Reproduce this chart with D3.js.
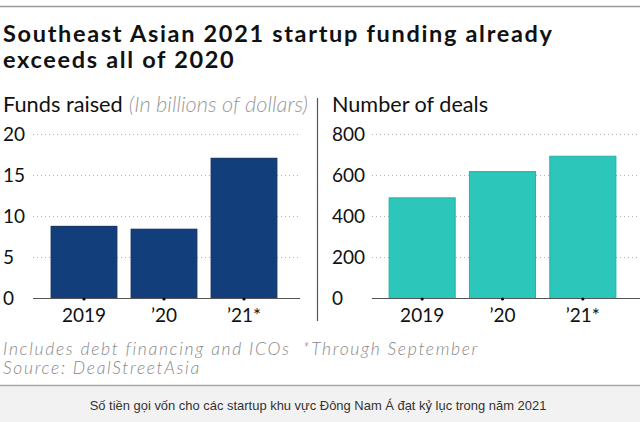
<!DOCTYPE html>
<html>
<head>
<meta charset="utf-8">
<script src="https://cdn.jsdelivr.net/npm/d3@7"></script>
<style>
  html, body { margin: 0; padding: 0; background: #fff; }
  svg { display: block; }
  text { font-family: Lato, "Open Sans", sans-serif; }
</style>
</head>
<body>
<svg id="chart" width="640" height="422"></svg>
<script>
// ---- data ----
const categories = ["2019", "\u201920", "\u201921*"];
const fundsRaised = [8.8, 8.45, 17.1];      // billions of dollars
const dealCounts = [491, 619, 694];        // number of deals
const fundsTicks = [0, 5, 10, 15, 20];
const dealTicks = [0, 200, 400, 600, 800];

const title = ["Southeast Asian 2021 startup funding already", "exceeds all of 2020"];
const notes = ["Includes debt financing and ICOs\u00a0\u00a0*Through September", "Source: DealStreetAsia"];
const caption = "S\u1ed1 ti\u1ec1n g\u1ecdi v\u1ed1n cho c\u00e1c startup khu v\u1ef1c \u0110\u00f4ng Nam \u00c1 \u0111\u1ea1t k\u1ef7 l\u1ee5c trong n\u0103m 2021";

const svg = d3.select("#chart");

// stretch a text to a target width via letter-spacing (keeps font size fixed)
function fitSpacing(sel, target) {
  const node = sel.node();
  const w = node.getComputedTextLength();
  const n = (sel.text() || "").length;
  if (w > 0 && n > 1) sel.attr("letter-spacing", ((target - w) / (n - 1)).toFixed(3));
  return sel.attr("letter-spacing");
}
function fitWidth(sel, target) {
  const node = sel.node();
  const w = node.getComputedTextLength();
  const fs = parseFloat(sel.attr("font-size"));
  if (w > 0) sel.attr("font-size", (fs * target / w).toFixed(2));
}

// top rule
svg.append("line").attr("x1", 0).attr("x2", 640).attr("y1", 6.5).attr("y2", 6.5)
  .attr("stroke", "#9a9a9a").attr("stroke-width", 1.5);

// title
const t1 = svg.append("text").attr("x", 3).attr("y", 41.5).attr("font-size", 23.5)
  .attr("font-weight", 700).attr("fill", "#111").text(title[0]);
const ls = fitSpacing(t1, 549);
svg.append("text").attr("x", 3).attr("y", 68).attr("font-size", 23.5).attr("letter-spacing", ls)
  .attr("font-weight", 700).attr("fill", "#111").text(title[1]);

// panels
function panel(opts) {
  const g = svg.append("g");
  const y = d3.scaleLinear().domain(opts.domain).range([298, 134]);
  const x = d3.scaleBand().domain(categories).range(opts.xRange)
    .paddingInner(0.165).paddingOuter(0.0825);

  // header
  const h = g.append("text").attr("x", opts.labelX).attr("y", 112)
    .attr("font-size", 18).attr("fill", "#111");
  h.append("tspan").text(opts.header);
  if (opts.sub) {
    h.append("tspan").attr("dx", 6).attr("font-style", "italic").attr("font-weight", 300)
      .attr("fill", "#999").text(opts.sub);
  }
  fitWidth(h, opts.headerWidth);

  // grid
  g.append("g").selectAll("line").data(opts.ticks.filter(d => d > 0)).join("line")
    .attr("x1", opts.gridX[0]).attr("x2", opts.gridX[1])
    .attr("y1", d => y(d) + 0.5).attr("y2", d => y(d) + 0.5)
    .attr("stroke", "#b5b5b5").attr("stroke-width", 1).attr("stroke-dasharray", "1,3");

  // y labels
  g.append("g").selectAll("text").data(opts.ticks).join("text")
    .attr("x", opts.labelX).attr("y", d => y(d)).attr("dy", "0.36em")
    .attr("font-size", 19).attr("fill", "#111").text(d => d);

  // bars
  g.append("g").selectAll("rect").data(opts.values).join("rect")
    .attr("x", (d, i) => x(categories[i]) + 0.5)
    .attr("y", d => y(d) + 0.5)
    .attr("width", x.bandwidth() - 1)
    .attr("height", d => y(0) - y(d))
    .attr("fill", opts.color).attr("stroke", opts.stroke).attr("stroke-width", 1);

  // axis line
  g.append("line").attr("x1", opts.gridX[0]).attr("x2", opts.gridX[1])
    .attr("y1", y(0) + 0.5).attr("y2", y(0) + 0.5)
    .attr("stroke", "#555").attr("stroke-width", 1.2);

  // tick dots
  g.append("g").selectAll("circle").data(categories).join("circle")
    .attr("cx", d => x(d) + x.bandwidth() / 2).attr("cy", y(0) + 1)
    .attr("r", 1.6).attr("fill", "#111");

  // x labels
  g.append("g").selectAll("text").data(categories).join("text")
    .attr("x", d => x(d) + x.bandwidth() / 2).attr("y", 322)
    .attr("text-anchor", "middle").attr("font-size", 19).attr("fill", "#111").text(d => d);
}

panel({
  domain: [0, 20], ticks: fundsTicks, values: fundsRaised,
  xRange: [44, 284], gridX: [33, 300], labelX: 3,
  header: "Funds raised", sub: "(In billions of dollars)", headerWidth: 299,
  color: "#123f7b", stroke: "#0b2d5c"
});
panel({
  domain: [0, 800], ticks: dealTicks, values: dealCounts,
  xRange: [382, 623], gridX: [372, 640], labelX: 332,
  header: "Number of deals", headerWidth: 156,
  color: "#2cc6bb", stroke: "#24b2a8"
});

// divider
svg.append("line").attr("x1", 317.5).attr("x2", 317.5).attr("y1", 98).attr("y2", 321)
  .attr("stroke", "#555").attr("stroke-width", 1.2);

// notes
const n1 = svg.append("text").attr("x", 3).attr("y", 355).attr("font-size", 17.5)
  .attr("font-style", "italic").attr("font-weight", 300).attr("fill", "#888").text(notes[0]);
const nls = fitSpacing(n1, 474);
svg.append("text").attr("x", 3).attr("y", 374).attr("font-size", 17.5).attr("letter-spacing", nls)
  .attr("font-style", "italic").attr("font-weight", 300).attr("fill", "#888").text(notes[1]);

// caption band
svg.append("rect").attr("x", 0).attr("y", 385).attr("width", 640).attr("height", 37).attr("fill", "#f2f2f2");
svg.append("line").attr("x1", 0).attr("x2", 640).attr("y1", 385.5).attr("y2", 385.5)
  .attr("stroke", "#a8a8a8").attr("stroke-width", 1.5);
const c = svg.append("text").attr("x", 318).attr("y", 410).attr("text-anchor", "middle")
  .attr("font-size", 13).attr("fill", "#333")
  .style("font-family", "'Liberation Sans', Arial, sans-serif").text(caption);
fitWidth(c, 457);
</script>
</body>
</html>
